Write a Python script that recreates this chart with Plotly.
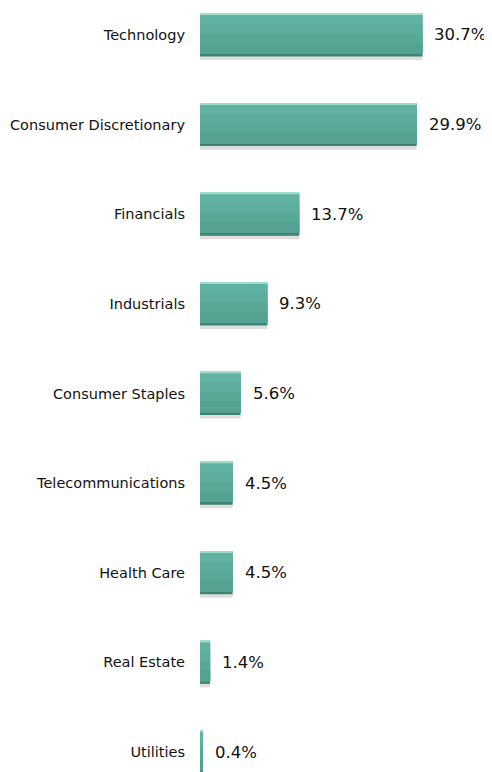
import plotly.graph_objects as go

categories = ["Technology", "Consumer Discretionary", "Financials", "Industrials",
              "Consumer Staples", "Telecommunications", "Health Care", "Real Estate", "Utilities"]
values = [30.7, 29.9, 13.7, 9.3, 5.6, 4.5, 4.5, 1.4, 0.4]
labels = ["30.7%", "29.9%", "13.7%", "9.3%", "5.6%", "4.5%", "4.5%", "1.4%", "0.4%"]

fig = go.Figure()
common = dict(y=categories, x=values, orientation="h", hoverinfo="skip", showlegend=False)
# soft shadow
fig.add_trace(go.Bar(**common, width=0.48, offset=-0.2, marker=dict(color="rgba(0,0,0,0.13)", line=dict(width=0))))
# dark base (bottom bevel)
fig.add_trace(go.Bar(**common, width=0.48, offset=-0.24, marker=dict(color="#3e8274", line=dict(width=0))))
# face as a gentle vertical gradient: each band runs to the face bottom so no seams show
face_bottom = 0.21
face_bands = [("#60b2a2", -0.225), ("#5cad9d", -0.12), ("#58a898", -0.01), ("#53a292", 0.09)]
for col, off in face_bands:
    fig.add_trace(go.Bar(**common, width=face_bottom - off, offset=off, marker=dict(color=col, line=dict(width=0))))
# top highlight
fig.add_trace(go.Bar(**common, width=0.018, offset=-0.24, marker=dict(color="#9edccc", line=dict(width=0))))

for c, v, t in zip(categories, values, labels):
    fig.add_annotation(x=v, y=c, text=t, showarrow=False, xanchor="left", yanchor="middle",
                       xshift=10, font=dict(family="DejaVu Sans", size=16.5, color="#111111"))

fig.update_layout(
    width=484, height=764,
    margin=dict(l=192, r=0, t=0, b=0),
    barmode="overlay",
    plot_bgcolor="white", paper_bgcolor="white",
    font=dict(family="DejaVu Sans", size=14.5, color="#111111"),
)
fig.update_xaxes(range=[0, 40.3], visible=False, showgrid=False, zeroline=False, fixedrange=True)
fig.update_yaxes(type="category", categoryorder="array", categoryarray=categories,
                 range=[8.223, -0.301], showgrid=False, zeroline=False, showline=False,
                 ticks="", ticklabelstandoff=14, tickfont=dict(family="DejaVu Sans", size=14.5, color="#111111"))

fig.write_html("out.html")
